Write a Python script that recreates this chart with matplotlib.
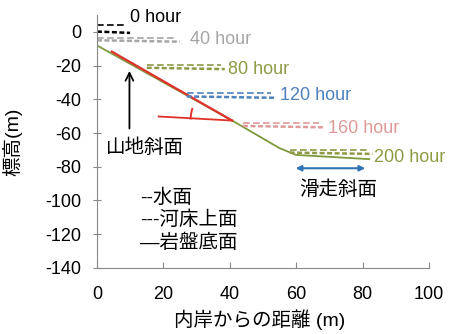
import matplotlib.pyplot as plt
from matplotlib.patches import Arc

plt.rcParams['font.family'] = ['Liberation Sans', 'Noto Sans CJK JP', 'DejaVu Sans']
plt.rcParams['axes.unicode_minus'] = False

# 各時間の水面・河床上面
hours = ['0 hour', '40 hour', '80 hour', '120 hour', '160 hour', '200 hour']
colors = ['#000000', '#a6a6a6', '#8f9a45', '#4f81bd', '#dd9a98', '#8f9a45']
line_x0 = [0, 0, 15, 27, 44, 58]
line_x1 = [9, 24, 37.5, 52.5, 67, 82]
water_y = [4, -3.4, -19.6, -36.4, -54.2, -70]
bed_y = [0.2, -5.0, -21.3, -38.3, -55.8, -71.6]
label_x = [10, 28, 39.5, 55, 69.5, 83.5]
label_y = [8.5, -4.7, -22.5, -37.7, -57.5, -74.5]

# 岩盤底面
rock_x = [0, 40.7, 55, 60, 82]
rock_y = [-8, -52.6, -69, -73, -75.5]

# 山地斜面の角度
slope_x = [4.5, 40.7]
slope_y = [-11.7, -52.6]
horiz_x = [18.6, 40.7]
horiz_y = [-50.2, -52.6]

fig = plt.figure(figsize=(4.57, 3.34), dpi=100)
ax = fig.add_axes([0.212, 0.198, 0.727, 0.757])

ax.plot(rock_x, rock_y, color='#7f9a3c', lw=1.3)
ax.plot(slope_x, slope_y, color='#e0302a', lw=1.6)
ax.plot(horiz_x, horiz_y, color='#e0302a', lw=1.3)
# 角度の弧 (半径 約40px)
ax.add_patch(Arc((40.7, -52.6), 25, 49, angle=0, theta1=148, theta2=177, color='#e0302a', lw=1.4))

for i in range(len(hours)):
    ax.plot([line_x0[i], line_x1[i]], [water_y[i], water_y[i]], color=colors[i], lw=1.2, dashes=(4, 2))
    ax.plot([line_x0[i], line_x1[i] + 1], [bed_y[i], bed_y[i] - 0.8], color=colors[i], lw=1.8, dashes=(2, 1))
    ax.text(label_x[i], label_y[i], hours[i], color=colors[i], fontsize=13, va='center', ha='left')

# 矢印
ax.annotate('', xy=(9.8, -21.5), xytext=(9.8, -59),
            arrowprops=dict(arrowstyle='->', color='black', lw=1.3, mutation_scale=14))
ax.text(14.6, -68.5, '山地斜面', fontsize=14, ha='center', va='center')
ax.annotate('', xy=(81.6, -80.9), xytext=(59, -80.9),
            arrowprops=dict(arrowstyle='<|-|>', color='#2e75b6', lw=1.5, mutation_scale=8))
ax.text(72.6, -93.7, '滑走斜面', fontsize=14, ha='center', va='center')

ax.text(13, -98.5, '--水面', fontsize=14, va='center')
ax.text(13, -111.5, '---河床上面', fontsize=14, va='center')
ax.text(13, -125, '—岩盤底面', fontsize=14, va='center')

ax.set_xlim(0, 100)
ax.set_ylim(-140, 10)
ax.set_xticks(range(0, 101, 20))
ax.set_yticks(range(-140, 1, 20))
ax.tick_params(axis='x', direction='in', length=4, color='#888888', labelsize=13, pad=13)
ax.tick_params(axis='y', direction='inout', length=6, color='#888888', labelsize=13, pad=8)
for s in ['top', 'right']:
    ax.spines[s].set_visible(False)
for s in ['left', 'bottom']:
    ax.spines[s].set_color('#888888')
ax.set_xlabel('内岸からの距離 (m)', fontsize=14)
ax.set_ylabel('標高(m)', fontsize=14)
ax.xaxis.set_label_coords(0.49, -0.165)
ax.yaxis.set_label_coords(-0.223, 0.5)

plt.savefig('out.png', dpi=100)
